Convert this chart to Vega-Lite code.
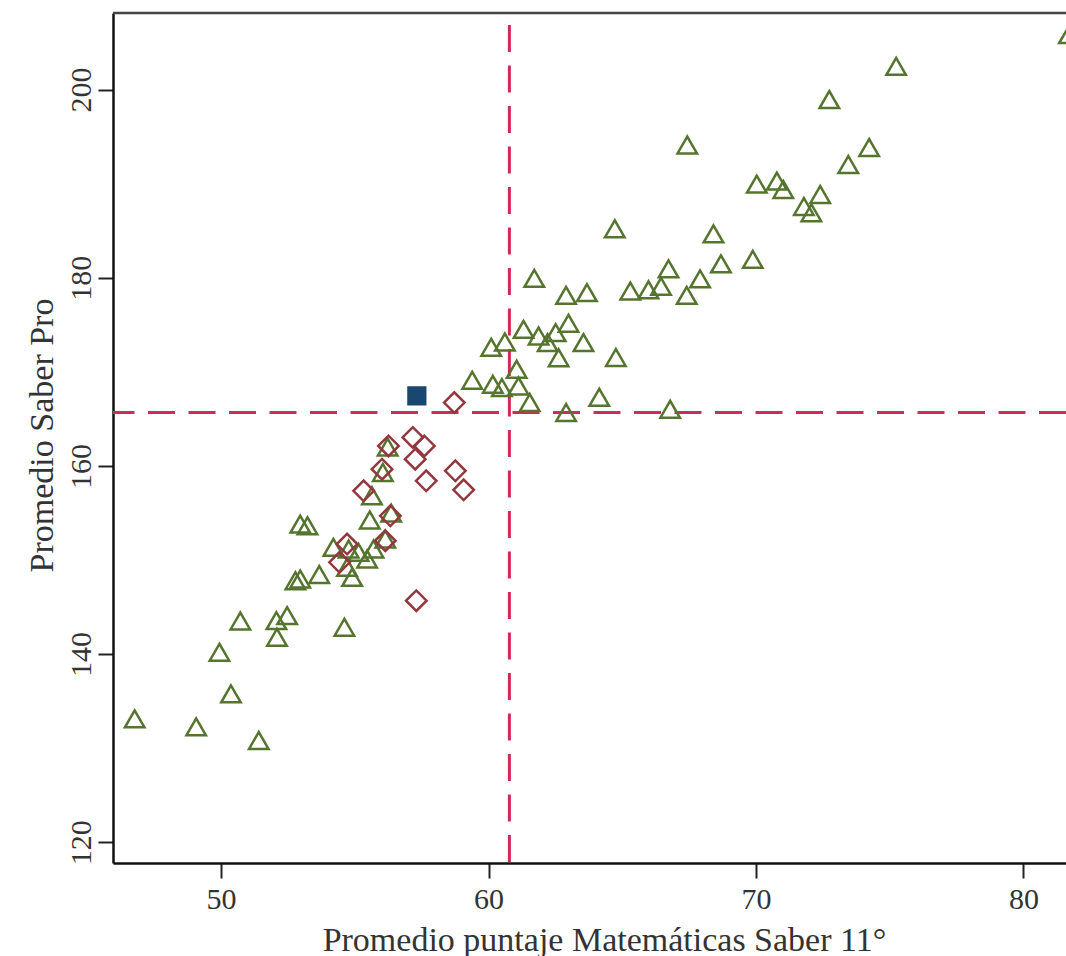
{
  "$schema": "https://vega.github.io/schema/vega-lite/v6.json",
  "width": 953,
  "height": 850,
  "autosize": {"type": "none"},
  "padding": {"left": 113, "top": 13, "right": 0, "bottom": 93},
  "background": "white",
  "config": {"view": {"stroke": null}, "font": "Liberation Serif"},
  "layer": [
    {
      "data": {"values": [{}]},
      "mark": {"type": "rule", "color": "#d02a5a", "strokeWidth": 3, "strokeDash": [27, 13.5], "strokeDashOffset": 28.5},
      "encoding": {"x": {"datum": 60.78, "type": "quantitative"}}
    },
    {
      "data": {"values": [{}]},
      "mark": {"type": "rule", "color": "#d02a5a", "strokeWidth": 3, "strokeDash": [27, 13.5]},
      "encoding": {"y": {"datum": 165.68, "type": "quantitative"}}
    },
    {
      "data": {"values": [{}]},
      "mark": {"type": "rule", "color": "#444", "strokeWidth": 2.5},
      "encoding": {"y": {"datum": 208.14, "type": "quantitative"}}
    },
    {
      "data": {"values": [
        {"mat": 46.77, "pro": 133.12, "grupo": "otros"},
        {"mat": 49.07, "pro": 132.27, "grupo": "otros"},
        {"mat": 51.41, "pro": 130.82, "grupo": "otros"},
        {"mat": 50.37, "pro": 135.77, "grupo": "otros"},
        {"mat": 49.94, "pro": 140.2, "grupo": "otros"},
        {"mat": 50.72, "pro": 143.52, "grupo": "otros"},
        {"mat": 52.07, "pro": 143.56, "grupo": "otros"},
        {"mat": 52.47, "pro": 144.09, "grupo": "otros"},
        {"mat": 52.09, "pro": 141.79, "grupo": "otros"},
        {"mat": 54.61, "pro": 142.86, "grupo": "otros"},
        {"mat": 52.78, "pro": 147.8, "grupo": "otros"},
        {"mat": 52.96, "pro": 147.98, "grupo": "otros"},
        {"mat": 53.67, "pro": 148.46, "grupo": "otros"},
        {"mat": 54.9, "pro": 148.16, "grupo": "otros"},
        {"mat": 54.71, "pro": 149.22, "grupo": "otros"},
        {"mat": 55.46, "pro": 150.11, "grupo": "otros"},
        {"mat": 55.14, "pro": 150.82, "grupo": "otros"},
        {"mat": 54.77, "pro": 151.17, "grupo": "otros"},
        {"mat": 54.2, "pro": 151.35, "grupo": "otros"},
        {"mat": 55.7, "pro": 151.17, "grupo": "otros"},
        {"mat": 56.14, "pro": 152.23, "grupo": "otros"},
        {"mat": 52.96, "pro": 153.82, "grupo": "otros"},
        {"mat": 53.23, "pro": 153.64, "grupo": "otros"},
        {"mat": 55.56, "pro": 154.25, "grupo": "otros"},
        {"mat": 56.36, "pro": 154.99, "grupo": "otros"},
        {"mat": 55.64, "pro": 156.83, "grupo": "otros"},
        {"mat": 56.05, "pro": 159.31, "grupo": "otros"},
        {"mat": 56.23, "pro": 162.0, "grupo": "otros"},
        {"mat": 59.39, "pro": 169.11, "grupo": "otros"},
        {"mat": 60.16, "pro": 168.68, "grupo": "otros"},
        {"mat": 60.5, "pro": 168.33, "grupo": "otros"},
        {"mat": 61.05, "pro": 170.28, "grupo": "otros"},
        {"mat": 61.12, "pro": 168.5, "grupo": "otros"},
        {"mat": 61.54, "pro": 166.74, "grupo": "otros"},
        {"mat": 62.9, "pro": 165.68, "grupo": "otros"},
        {"mat": 64.14, "pro": 167.3, "grupo": "otros"},
        {"mat": 66.79, "pro": 166.03, "grupo": "otros"},
        {"mat": 60.1, "pro": 172.61, "grupo": "otros"},
        {"mat": 60.61, "pro": 173.17, "grupo": "otros"},
        {"mat": 61.31, "pro": 174.52, "grupo": "otros"},
        {"mat": 61.87, "pro": 173.81, "grupo": "otros"},
        {"mat": 62.21, "pro": 173.11, "grupo": "otros"},
        {"mat": 62.51, "pro": 174.17, "grupo": "otros"},
        {"mat": 62.99, "pro": 175.16, "grupo": "otros"},
        {"mat": 63.55, "pro": 173.11, "grupo": "otros"},
        {"mat": 62.62, "pro": 171.5, "grupo": "otros"},
        {"mat": 64.76, "pro": 171.52, "grupo": "otros"},
        {"mat": 61.71, "pro": 179.94, "grupo": "otros"},
        {"mat": 62.9, "pro": 178.13, "grupo": "otros"},
        {"mat": 63.68, "pro": 178.42, "grupo": "otros"},
        {"mat": 65.3, "pro": 178.59, "grupo": "otros"},
        {"mat": 65.98, "pro": 178.72, "grupo": "otros"},
        {"mat": 66.45, "pro": 179.09, "grupo": "otros"},
        {"mat": 66.73, "pro": 180.94, "grupo": "otros"},
        {"mat": 67.41, "pro": 178.13, "grupo": "otros"},
        {"mat": 67.91, "pro": 179.88, "grupo": "otros"},
        {"mat": 64.72, "pro": 185.21, "grupo": "otros"},
        {"mat": 68.41, "pro": 184.66, "grupo": "otros"},
        {"mat": 68.69, "pro": 181.48, "grupo": "otros"},
        {"mat": 69.88, "pro": 181.95, "grupo": "otros"},
        {"mat": 67.43, "pro": 194.11, "grupo": "otros"},
        {"mat": 70.03, "pro": 189.95, "grupo": "otros"},
        {"mat": 70.78, "pro": 190.27, "grupo": "otros"},
        {"mat": 71.02, "pro": 189.38, "grupo": "otros"},
        {"mat": 71.79, "pro": 187.58, "grupo": "otros"},
        {"mat": 72.07, "pro": 186.91, "grupo": "otros"},
        {"mat": 72.4, "pro": 188.85, "grupo": "otros"},
        {"mat": 73.45, "pro": 192.04, "grupo": "otros"},
        {"mat": 74.23, "pro": 193.84, "grupo": "otros"},
        {"mat": 72.74, "pro": 198.94, "grupo": "otros"},
        {"mat": 75.24, "pro": 202.47, "grupo": "otros"},
        {"mat": 81.7, "pro": 205.84, "grupo": "otros"},
        {"mat": 58.72, "pro": 166.74, "grupo": "bajo"},
        {"mat": 57.17, "pro": 163.03, "grupo": "bajo"},
        {"mat": 57.6, "pro": 162.13, "grupo": "bajo"},
        {"mat": 57.26, "pro": 160.72, "grupo": "bajo"},
        {"mat": 57.67, "pro": 158.42, "grupo": "bajo"},
        {"mat": 58.76, "pro": 159.48, "grupo": "bajo"},
        {"mat": 59.07, "pro": 157.46, "grupo": "bajo"},
        {"mat": 57.3, "pro": 145.68, "grupo": "bajo"},
        {"mat": 56.26, "pro": 162.13, "grupo": "bajo"},
        {"mat": 56.02, "pro": 159.66, "grupo": "bajo"},
        {"mat": 55.33, "pro": 157.36, "grupo": "bajo"},
        {"mat": 56.33, "pro": 154.7, "grupo": "bajo"},
        {"mat": 56.14, "pro": 152.05, "grupo": "bajo"},
        {"mat": 54.71, "pro": 151.7, "grupo": "bajo"},
        {"mat": 54.43, "pro": 149.76, "grupo": "bajo"},
        {"mat": 57.32, "pro": 167.44, "grupo": "ref"}
      ]},
      "mark": {"type": "point", "strokeWidth": 2.5, "opacity": 1},
      "encoding": {
        "x": {
          "field": "mat", "type": "quantitative",
          "scale": {"domain": [45.96, 81.59], "nice": false, "zero": false},
          "axis": {
            "values": [50, 60, 70, 80], "grid": false,
            "title": "Promedio puntaje Matemáticas Saber 11°",
            "tickSize": 15, "tickWidth": 2, "tickColor": "#222",
            "domainColor": "#111", "domainWidth": 2.5,
            "labelFont": "Liberation Serif", "labelFontSize": 30, "labelColor": "#333", "labelPadding": 6,
            "labelFlush": false, "labelOverlap": false,
            "titleFont": "Liberation Serif", "titleFontSize": 34, "titleFontWeight": "normal", "titleColor": "#333",
            "titleX": 491, "titleY": 87, "titleBaseline": "alphabetic", "titleAlign": "center", "titleAnchor": "middle"
          }
        },
        "y": {
          "field": "pro", "type": "quantitative",
          "scale": {"domain": [117.8, 208.14], "nice": false, "zero": false},
          "axis": {
            "values": [120, 140, 160, 180, 200], "grid": false,
            "title": "Promedio Saber Pro",
            "tickSize": 15, "tickWidth": 2, "tickColor": "#222",
            "domainColor": "#111", "domainWidth": 2.5,
            "labelAngle": -90, "labelAlign": "center", "labelBaseline": "alphabetic",
            "labelFont": "Liberation Serif", "labelFontSize": 30, "labelColor": "#333", "labelPadding": 8,
            "labelFlush": false, "labelOverlap": false,
            "titleFont": "Liberation Serif", "titleFontSize": 34, "titleFontWeight": "normal", "titleColor": "#333",
            "titleAngle": -90, "titleX": -61, "titleY": 422, "titleBaseline": "alphabetic", "titleAlign": "center"
          }
        },
        "shape": {"field": "grupo", "type": "nominal", "scale": {"domain": ["otros", "bajo", "ref"], "range": ["triangle-up", "diamond", "square"]}, "legend": null},
        "stroke": {"field": "grupo", "type": "nominal", "scale": {"domain": ["otros", "bajo", "ref"], "range": ["#55752f", "#93363d", "#1a476f"]}, "legend": null},
        "fill": {"field": "grupo", "type": "nominal", "scale": {"domain": ["otros", "bajo", "ref"], "range": ["transparent", "transparent", "#1a476f"]}, "legend": null},
        "size": {"field": "grupo", "type": "nominal", "scale": {"type": "ordinal", "domain": ["otros", "bajo", "ref"], "range": [380, 420, 280]}, "legend": null}
      }
    }
  ]
}
